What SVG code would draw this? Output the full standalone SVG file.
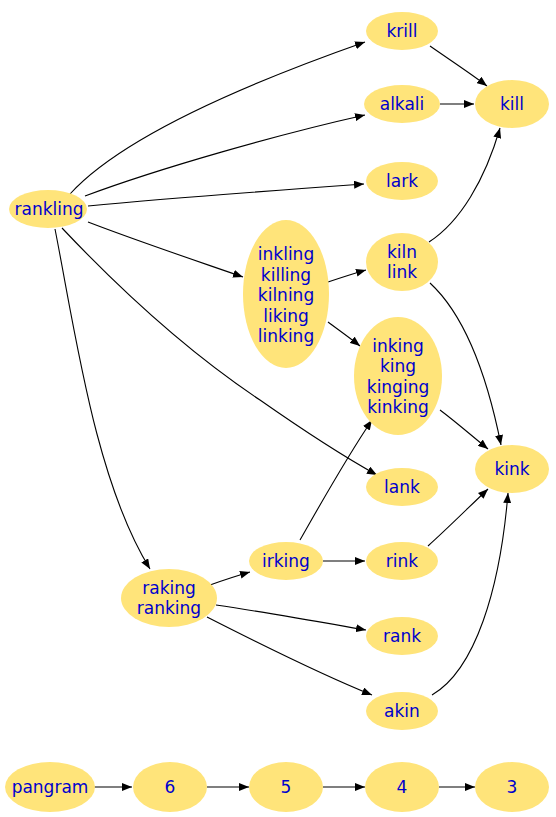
<svg xmlns="http://www.w3.org/2000/svg" width="556" height="817" viewBox="0 0 556 817">
<defs>
<marker id="ah" markerWidth="10" markerHeight="8" refX="10" refY="4" orient="auto" markerUnits="userSpaceOnUse">
<path d="M0,0 L10,4 L0,8 Z" fill="#000"/>
</marker>
<style>
.n ellipse{fill:#ffe47a;stroke:none}
.n text{font-family:"DejaVu Sans",sans-serif;font-size:17px;fill:#0000cd;text-anchor:middle}
.e path{fill:none;stroke:#000;stroke-width:1.1;marker-end:url(#ah)}
</style>
</defs>
<rect width="556" height="817" fill="#fff"/>
<g id="edges" class="e">
<path d="M70,194 C110,150 200,100 365,42"/>
<path d="M85,196 C160,168 280,134 365,115"/>
<path d="M88,206 C170,198 280,190 364,184"/>
<path d="M88,222 C140,242 200,262 243,277"/>
<path d="M62,228 C130,300 200,360 260,400 C310,435 350,460 377,475"/>
<path d="M55,229 C75,330 95,480 150,569"/>
<path d="M430,46 C450,60 470,73 487,86"/>
<path d="M440,104 L474,104"/>
<path d="M429,242 C460,222 485,180 500,128"/>
<path d="M430,283 C470,320 490,390 501,445"/>
<path d="M328,282 C340,278 352,274 366,270"/>
<path d="M328,322 C340,331 350,338 360,346"/>
<path d="M440,410 C456,422 472,436 488,449"/>
<path d="M300,540 C320,505 345,460 372,420"/>
<path d="M323,561 L365,561"/>
<path d="M428,546 C448,528 468,508 488,489"/>
<path d="M210,585 C224,580 236,576 250,572"/>
<path d="M216,605 C270,613 320,622 366,630"/>
<path d="M207,617 C260,644 320,674 372,695"/>
<path d="M432,695 C475,670 500,590 508,493"/>
<path d="M94,787 L132,787"/>
<path d="M207,787 L249,787"/>
<path d="M323,787 L365,787"/>
<path d="M439,787 L475,787"/>
</g>
<g id="rankling" class="n"><ellipse cx="48" cy="209" rx="39" ry="19"/><text x="49" y="215">rankling</text></g>
<g id="krill" class="n"><ellipse cx="402" cy="31" rx="36" ry="19"/><text x="402" y="37">krill</text></g>
<g id="kill" class="n"><ellipse cx="512" cy="104" rx="37" ry="24"/><text x="512" y="110">kill</text></g>
<g id="alkali" class="n"><ellipse cx="402" cy="104" rx="38" ry="19"/><text x="402" y="110">alkali</text></g>
<g id="lark" class="n"><ellipse cx="402" cy="181" rx="36" ry="19"/><text x="402" y="187">lark</text></g>
<g id="inkling" class="n"><ellipse cx="286" cy="294" rx="43" ry="74"/><text x="286" y="260">inkling</text><text x="286" y="281">killing</text><text x="286" y="301">kilning</text><text x="286" y="322">liking</text><text x="286" y="342">linking</text></g>
<g id="kiln" class="n"><ellipse cx="402" cy="262" rx="36" ry="29"/><text x="402" y="258">kiln</text><text x="402" y="278">link</text></g>
<g id="inking" class="n"><ellipse cx="398" cy="376" rx="44" ry="59"/><text x="398" y="352">inking</text><text x="398" y="372">king</text><text x="398" y="393">kinging</text><text x="398" y="413">kinking</text></g>
<g id="kink" class="n"><ellipse cx="512" cy="469" rx="37" ry="24"/><text x="512" y="475">kink</text></g>
<g id="lank" class="n"><ellipse cx="402" cy="487" rx="36" ry="19"/><text x="402" y="493">lank</text></g>
<g id="irking" class="n"><ellipse cx="286" cy="561" rx="37" ry="19"/><text x="286" y="567">irking</text></g>
<g id="rink" class="n"><ellipse cx="402" cy="561" rx="36" ry="19"/><text x="402" y="567">rink</text></g>
<g id="raking" class="n"><ellipse cx="169" cy="598" rx="48" ry="29"/><text x="169" y="594">raking</text><text x="169" y="614">ranking</text></g>
<g id="rank" class="n"><ellipse cx="402" cy="636" rx="36" ry="19"/><text x="402" y="642">rank</text></g>
<g id="akin" class="n"><ellipse cx="402" cy="711" rx="36" ry="19"/><text x="402" y="717">akin</text></g>
<g id="pangram" class="n"><ellipse cx="50" cy="787" rx="45" ry="25"/><text x="50" y="793">pangram</text></g>
<g id="n6" class="n"><ellipse cx="170" cy="787" rx="37" ry="25"/><text x="170" y="793">6</text></g>
<g id="n5" class="n"><ellipse cx="286" cy="787" rx="37" ry="25"/><text x="286" y="793">5</text></g>
<g id="n4" class="n"><ellipse cx="402" cy="787" rx="37" ry="25"/><text x="402" y="793">4</text></g>
<g id="n3" class="n"><ellipse cx="512" cy="787" rx="37" ry="25"/><text x="512" y="793">3</text></g>
</svg>
